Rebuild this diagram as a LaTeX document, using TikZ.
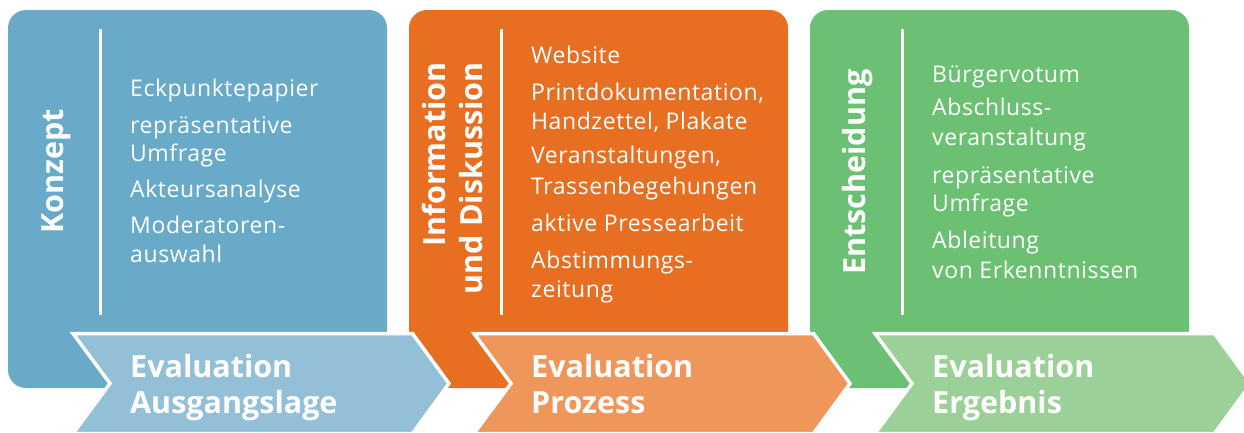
\documentclass[tikz,border=0pt]{standalone}
\usepackage{fontspec}
\setmainfont{Open Sans}
\newfontfamily\itemfont[LetterSpace=2.5]{Open Sans}
\definecolor{bluebox}{HTML}{68AAC7}
\definecolor{bluechev}{HTML}{93C0D7}
\definecolor{orangebox}{HTML}{E86F21}
\definecolor{orangechev}{HTML}{EF965B}
\definecolor{greenbox}{HTML}{6CC073}
\definecolor{greenchev}{HTML}{9BD198}
\tikzset{
  item/.style={anchor=base west, inner sep=0pt, text=white, font=\itemfont\fontsize{23}{28}\selectfont},
  evtext/.style={anchor=base west, inner sep=0pt, text=white, font=\bfseries\fontsize{30.5}{37}\selectfont},
  vtitle/.style={rotate=90, inner sep=0pt, text=white, font=\bfseries\fontsize{30.5}{37}\selectfont},
  chev/.style={draw=white, line width=3.5pt, line join=miter},
  sepline/.style={draw=white, line width=3pt},
  box/.style={rounded corners=18pt},
}
\begin{document}
\begin{tikzpicture}[x=1pt,y=-1pt]
\clip (0,0) rectangle (1244,432);
\fill[white] (0,0) rectangle (1244,432);
% boxes
\fill[box, bluebox] (8,10) rectangle (387,388);
\fill[box, orangebox] (409,10) rectangle (788,388);
\fill[box, greenbox] (810,10) rectangle (1189,388);
% separators
\draw[sepline] (100,29) -- (100,315);
\draw[sepline] (501,29) -- (501,315);
\draw[sepline] (902,29) -- (902,315);
% chevrons
\path[chev, fill=bluechev] (73,333.5) -- (412.5,333.5) -- (449,383.5) -- (412.5,433.5) -- (73,433.5) -- (110,383.5) -- cycle;
\path[chev, fill=orangechev] (474,333.5) -- (813.5,333.5) -- (850,383.5) -- (813.5,433.5) -- (474,433.5) -- (511,383.5) -- cycle;
\path[chev, fill=greenchev] (875,333.5) -- (1214.5,333.5) -- (1251,383.5) -- (1214.5,433.5) -- (875,433.5) -- (912,383.5) -- cycle;
% vertical titles
\node[vtitle, anchor=base] (t1) at (63,171.5) {Konzept};
\node[vtitle, anchor=base east] (t2a) at (445,62) {Information};
\node[vtitle, anchor=base east] (t2b) at (482,62) {und Diskussion};
\node[vtitle, anchor=base] (t3) at (865,172) {Entscheidung};
% box 1 items
\node[item] (a1) at (130,96) {Eckpunktepapier};
\node[item] (a2) at (130,133) {repräsentative};
\node[item] (a3) at (130,161) {Umfrage};
\node[item] (a4) at (130,197) {Akteursanalyse};
\node[item] (a5) at (130,233) {Moderatoren-};
\node[item] (a6) at (130,262) {auswahl};
% box 2 items
\node[item] (b1) at (531,63) {Website};
\node[item] (b2) at (531,100.5) {Printdokumentation,};
\node[item] (b3) at (531,129) {Handzettel, Plakate};
\node[item] (b4) at (531,163) {Veranstaltungen,};
\node[item] (b5) at (531,194) {Trassenbegehungen};
\node[item] (b6) at (531,231) {aktive Pressearbeit};
\node[item] (b7) at (531,268) {Abstimmungs-};
\node[item] (b8) at (531,297) {zeitung};
% box 3 items
\node[item] (c1) at (932,82) {Bürgervotum};
\node[item] (c2) at (932,115) {Abschluss-};
\node[item] (c3) at (932,145) {veranstaltung};
\node[item] (c4) at (932,183) {repräsentative};
\node[item] (c5) at (932,211) {Umfrage};
\node[item] (c6) at (932,248) {Ableitung};
\node[item] (c7) at (932,278) {von Erkenntnissen};
% chevron texts
\node[evtext] (e1a) at (130,377) {Evaluation};
\node[evtext] (e1b) at (130,413) {Ausgangslage};
\node[evtext] (e2a) at (531,377) {Evaluation};
\node[evtext] (e2b) at (531,413) {Prozess};
\node[evtext] (e3a) at (932,377) {Evaluation};
\node[evtext] (e3b) at (932,413) {Ergebnis};
\end{tikzpicture}
\end{document}
